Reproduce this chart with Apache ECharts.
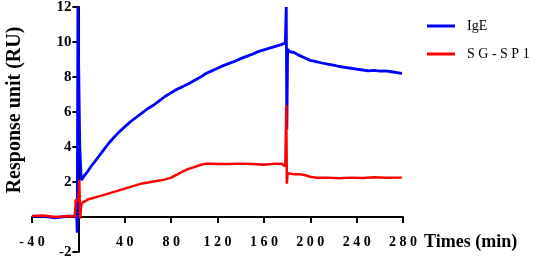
<!DOCTYPE html>
<html>
<head>
<meta charset="utf-8">
<script src="https://cdn.jsdelivr.net/npm/echarts@6/dist/echarts.min.js"></script>
<style>
  html, body { margin: 0; padding: 0; background: #fff; }
  #sensor { width: 536px; height: 263px; }
</style>
</head>
<body>
<div id="sensor"></div>
<script>
var chartDom = document.getElementById('sensor');
var myChart = echarts.init(chartDom);
var option;

// [time (min), response (RU)]
var igeData = [
  [-40, 0.05], [-35, 0.05], [-30, 0.03], [-25, 0.0], [-20, -0.05], [-15, 0.0],
  [-10, 0.05], [-5, 0.05], [-1.5, 0.1], [-1, -0.9], [-0.4, 12], [0.4, 12],
  [1.2, 4], [2.5, 2.1], [5, 2.35], [8, 2.6], [11, 2.9], [14, 3.15], [18, 3.5],
  [22, 3.85], [26, 4.2], [30, 4.5], [35, 4.85], [40, 5.15], [45, 5.45],
  [50, 5.7], [55, 5.95], [60, 6.2], [65, 6.4], [70, 6.65], [75, 6.9], [80, 7.1],
  [85, 7.3], [90, 7.45], [95, 7.62], [100, 7.8], [105, 7.98], [110, 8.2],
  [115, 8.35], [120, 8.5], [125, 8.65], [130, 8.78], [135, 8.9], [140, 9.05],
  [145, 9.18], [150, 9.3], [155, 9.45], [160, 9.55], [165, 9.65], [170, 9.75],
  [175, 9.85], [178.5, 9.95], [179.3, 12], [179.8, 5], [180.5, 9.6], [182, 9.45],
  [186, 9.4], [190, 9.25], [195, 9.1], [200, 8.95], [205, 8.88], [210, 8.8],
  [215, 8.73], [220, 8.68], [225, 8.6], [230, 8.55], [235, 8.5], [240, 8.45],
  [245, 8.4], [250, 8.35], [255, 8.38], [260, 8.33], [265, 8.35], [270, 8.3],
  [275, 8.25], [279, 8.2]
];
var sgsp1Data = [
  [-40, 0.05], [-30, 0.08], [-20, 0.0], [-10, 0.05], [-3, 0.05], [-2.2, 1.0],
  [-1.2, 1.1], [0, 0.9], [0.8, 2.1], [1.5, -0.1], [2.5, 0.7], [4, 0.85],
  [6, 0.9], [8, 1.0], [12, 1.07], [16, 1.15], [20, 1.22], [25, 1.32], [30, 1.42],
  [35, 1.52], [40, 1.62], [45, 1.72], [50, 1.82], [55, 1.92], [60, 1.97],
  [65, 2.03], [70, 2.08], [75, 2.15], [80, 2.25], [85, 2.42], [90, 2.6],
  [95, 2.75], [100, 2.85], [105, 2.97], [110, 3.05], [115, 3.05], [120, 3.03],
  [130, 3.03], [140, 3.05], [150, 3.03], [160, 2.98], [170, 3.05], [175, 3.05],
  [178.5, 2.9], [179.3, 6.4], [179.8, 1.9], [180.5, 2.5], [185, 2.45],
  [190, 2.45], [195, 2.4], [200, 2.3], [205, 2.25], [215, 2.25], [225, 2.22],
  [235, 2.25], [245, 2.23], [255, 2.27], [265, 2.24], [279, 2.25]
];
var seriesNames = ['IgE', 'SG-SP1'];
var colors = ['#0000ff', '#ff0000'];
var xRange = [-40, 280];
var yRange = [-2, 12];

function spaced(s) {
  return String(s).split('').join(' ');
}

var serif = '"Liberation Serif", "DejaVu Serif", serif';

// plot box in pixels, then shift each axis onto the other's zero
var W = 536, H = 263;
var grid = { left: 32, right: 133, top: 7, bottom: 11 };
var plotW = W - grid.left - grid.right;
var plotH = H - grid.top - grid.bottom;
var xOffset = -(0 - yRange[0]) / (yRange[1] - yRange[0]) * plotH;
var yOffset = -(0 - xRange[0]) / (xRange[1] - xRange[0]) * plotW;

option = {
  animation: false,
  grid: {
    left: grid.left,
    right: grid.right,
    top: grid.top,
    bottom: grid.bottom,
    outerBoundsMode: 'none'
  },
  legend: {
    orient: 'vertical',
    left: 427,
    top: 19,
    padding: 0,
    icon: 'rect',
    itemWidth: 28,
    itemHeight: 3,
    itemGap: 14,
    data: seriesNames,
    formatter: function (name) {
      return name === 'SG-SP1' ? spaced(name) : name;
    },
    textStyle: {
      fontFamily: serif,
      fontSize: 14,
      lineHeight: 14,
      color: '#000',
      padding: [0, 0, 0, 7]
    }
  },
  xAxis: {
    type: 'value',
    min: xRange[0],
    max: xRange[1],
    interval: 40,
    offset: xOffset,
    splitLine: { show: false },
    axisLine: { onZero: false, lineStyle: { color: '#000', width: 2 } },
    axisTick: { length: 6, lineStyle: { color: '#000', width: 2 } },
    axisLabel: {
      margin: 18,
      fontFamily: serif,
      fontWeight: 'bold',
      fontSize: 14,
      color: '#000',
      formatter: function (v) {
        return v === 0 ? '' : spaced(v);
      }
    }
  },
  yAxis: {
    type: 'value',
    min: yRange[0],
    max: yRange[1],
    interval: 2,
    offset: yOffset,
    splitLine: { show: false },
    axisLine: { onZero: false, lineStyle: { color: '#000', width: 2 } },
    axisTick: { length: 6, lineStyle: { color: '#000', width: 2 } },
    axisLabel: {
      margin: 7,
      fontFamily: serif,
      fontWeight: 'bold',
      fontSize: 15,
      color: '#000',
      formatter: function (v) {
        return v === 0 ? '' : v;
      }
    }
  },
  graphic: [
    {
      type: 'text',
      x: 15,
      y: 110,
      rotation: Math.PI / 2,
      style: {
        text: 'Response unit (RU)',
        font: 'bold 20px ' + serif,
        fill: '#000',
        align: 'center',
        verticalAlign: 'middle'
      }
    },
    {
      type: 'text',
      x: 424,
      y: 242,
      style: {
        text: 'Times (min)',
        font: 'bold 18px ' + serif,
        fill: '#000',
        align: 'left',
        verticalAlign: 'middle'
      }
    }
  ],
  series: [
    {
      name: seriesNames[0],
      type: 'line',
      data: igeData,
      showSymbol: false,
      symbol: 'none',
      lineStyle: { width: 2.8, color: colors[0] },
      itemStyle: { color: colors[0] },
      z: 2
    },
    {
      name: seriesNames[1],
      type: 'line',
      data: sgsp1Data,
      showSymbol: false,
      symbol: 'none',
      lineStyle: { width: 2.5, color: colors[1] },
      itemStyle: { color: colors[1] },
      z: 3
    }
  ]
};

option && myChart.setOption(option);
</script>
</body>
</html>
